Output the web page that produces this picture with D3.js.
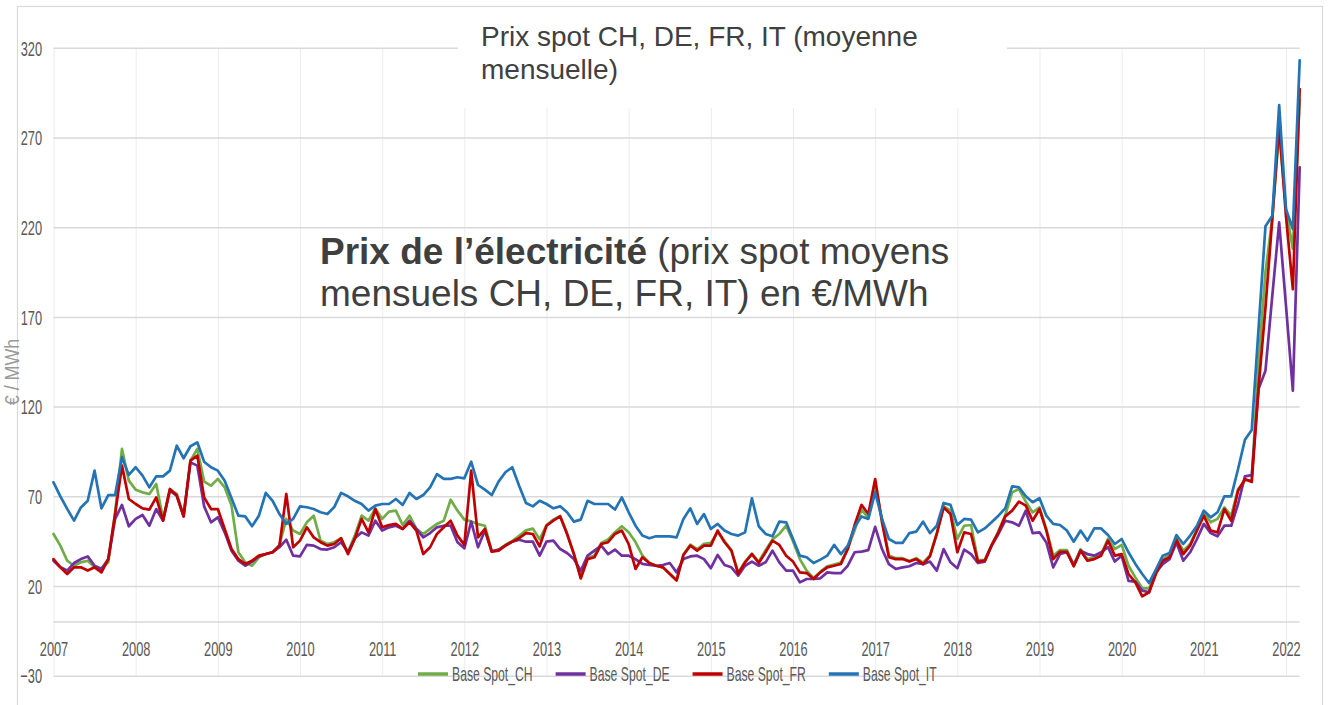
<!DOCTYPE html>
<html><head><meta charset="utf-8">
<script src="https://cdn.jsdelivr.net/npm/d3@7"></script>
<style>html,body{margin:0;padding:0;background:#fff;overflow:hidden}</style>
</head><body><svg id="c" width="1332" height="705"></svg>
<script>
// ---------- data ----------
const yearLabels = ["2007","2008","2009","2010","2011","2012","2013","2014","2015","2016","2017","2018","2019","2020","2021","2022"];
const yTicks = [-30,20,70,120,170,220,270,320];
const seriesNames = ["Base Spot_CH","Base Spot_DE","Base Spot_FR","Base Spot_IT"];
const seriesColors = ["#70ad47","#7030a0","#c00000","#2474b5"];
const chartTitle = ["Prix spot CH, DE, FR, IT (moyenne","mensuelle)"];
const unitLabel = "€ / MWh";

// monthly averages, Jan 2007 .. Mar 2022
const baseSpotCH = [
49,42.5,34.1,31.3,33.2,34.1,30.4,29.9,33.2,61,
96.4,78.7,73.7,72.2,71.3,76.9,57.4,73.7,71.3,59.2,
89.9,96.4,78.2,75.9,79.7,75,64.8,38.8,33.2,31.3,
36,37.8,38.8,42.9,57.4,50.9,49,55.5,59.2,45.3,
43.4,44.4,46.6,38.8,48.1,59.2,56.4,63.3,57.4,61.5,
62,54,59.2,51.8,49,51.8,54.6,56.4,68.1,62,
57,56,54.5,53.6,39.5,40,43,45,48,51,
52,46,54,57,59,49.5,38,25,35.5,37,
44,46,50,53.3,50,44.5,37,33,31.3,30.4,
27,23.5,37.5,43,40.5,43.5,44,50,45,40,
27.6,33.5,38,33.5,40,46,49,53.6,45,35,
28.5,24.5,28,31,32,33,41,51,62.6,58,
75.9,57.4,37,35.5,35.5,34,35.5,33,37,49.5,
64.5,62,46.2,53.6,54,34.5,34.5,43,50.5,59.5,
72.2,74,67,61,63.8,51.8,36.9,40,40,32,
40.5,35,36,37.8,46.2,40.6,42.9,31.3,24.8,18.7,
18.7,27.5,35,37,46.6,39.7,43.4,51.8,61.1,55.5,
57.4,63.8,59.2,74,78.7,79.6,145,195,225,274,
230,208,291];
const baseSpotDE = [
34.1,30.4,28.6,32.8,35,36.5,31.3,29.5,35,57.4,
65.2,53.3,57.4,59.6,53.6,62.9,56.4,73.2,70.4,58.8,
88.9,87.1,64.4,55.5,58.3,49.9,39.7,34.1,31.3,33.6,
36.5,37.8,38.8,41.6,45.8,36.9,36.5,42.9,42.5,40.6,
40.3,41.6,44.4,38.8,46.6,49.9,48.1,56.4,50.9,52.7,
53.6,51.8,56.4,51.8,47.1,49.5,52.7,53.6,53.6,44.4,
41,55.9,41.6,50.9,39.2,40.3,42.5,44.7,45.8,44.7,
44.7,36.9,44.7,45.3,40.6,38.4,35,28.5,36.9,39.7,
42.5,37.8,40.3,36.9,36.9,35,32.3,31.7,31.3,31.7,
32.8,27.6,35,36.5,36.9,35,29.9,37.3,31.7,30.4,
25.8,31.3,33.6,31.3,33.2,39.7,33.2,28.6,28.6,22,
23.9,23.9,24.3,27.6,27.2,27.2,31.3,38.8,39.2,40,
53,40.6,32.2,29.5,30.4,31,32.8,32.2,33.6,28.6,
40.6,33.2,29.9,40.3,37.8,32.8,33.6,42.5,49,56.4,
55.5,53.6,62,49.5,49.9,44.3,30.4,37.8,38.8,31.3,
39.7,37.8,36.9,38.8,41.6,33.6,36.9,22.9,22.4,17.4,
16.5,27.6,32.2,35,44.3,34.1,38.8,46.2,54.6,49.5,
47.7,53.6,53.6,65.7,81.1,81.8,130,140,181.8,222.7,
176.2,128.9,253.4];
const baseSpotFR = [
35,30.4,26.7,30.4,30.4,28.6,30.4,27.6,35,60.1,
87.1,68.5,65.7,63.3,62.6,69.4,56.4,74.1,70.4,58.8,
89.9,92.7,69.4,62.9,62.9,51.8,40.6,35,32.3,34.1,
36.9,37.8,38.8,42.5,71.3,41.6,45.3,52.7,47.1,44.4,
42.5,43.4,46.6,37.8,46.2,57.4,49.9,62.9,52.7,54,
54.6,51.8,55.5,50.9,37.8,41.6,49,52.7,56.4,48.1,
42.9,84.3,47.1,51.8,39.2,39.7,42.5,44.7,46.6,49.5,
49,42.1,53.6,56.4,58.8,49,37.8,24.2,35,36,
43.4,44.4,49,50.9,43.4,29.5,36,32.8,31.3,30.4,
26.7,23,37.3,42.5,39.7,42.5,42.5,50.9,44.4,39.7,
26.7,33.2,37.8,32.8,38.8,45.3,42.9,36.9,33.6,27.6,
27.2,23.9,27.6,30.4,31.3,32.3,40.6,54,65.2,60.1,
79.6,55.5,36,35,35,33.6,35,32.2,36.5,49,
63.8,60.1,38.8,49.9,49,33.6,34.1,42.5,49.9,58.8,
62,67,64.8,56.4,62.9,50.9,35,39.1,39.1,31,
39.7,34.1,35,36.9,45.3,36.9,37.8,26.7,22,14.2,
16.5,26.7,34.1,36,45.8,37.8,42.5,50.9,59.2,50.9,
49.9,62.9,56.4,73.1,79.6,78,131,175,224.6,276.6,
226,185.5,297];
const baseSpotIT = [
77.8,70,63,56.4,63.8,67.5,84.3,63.3,70.7,70.7,
91.8,81.9,86.2,81.5,75,81.1,81.1,84.3,98.2,91.2,
97.9,100.1,89.3,86.2,84.3,78.7,68.9,59.2,58.8,53.3,
59.2,71.9,67.5,60.1,54.6,57.4,64.4,63.9,62.9,61.1,
60.1,64,71.9,70,67.5,65.7,62,64.8,65.7,65.7,
68.5,65.2,71.9,68.5,70.7,75,82.4,79.7,79.7,80.6,
80,89.3,76.3,73.7,70.7,78.2,83.4,86.2,75.9,66.3,
64.4,67.5,65.7,63.3,64.4,61.1,55.9,57,67.5,65.7,
65.7,65.7,62.6,69.4,61.1,53.6,48.1,46.6,47.7,47.7,
47.7,47.1,57.4,63.3,54.6,60.1,51.8,54.6,50.9,49,
48.1,49.9,68.9,53.3,49,47.7,55.9,55.5,46.2,36.9,
36,32.8,34.7,36.9,42.9,37.8,42.5,52.7,58.8,57.4,
72.2,57.4,46.2,44,44,49.5,50.3,55.9,49.5,53.6,
66.3,65.2,54,57.4,57,49.9,52.1,55.5,59.2,63.3,
75.5,75,70,66.7,68.9,59.2,54.6,54,50.9,44.7,
50.9,45.3,52.1,52.1,48.4,43.4,46.2,38.8,32.3,26.7,
21.7,29.1,36.9,38.4,48.4,43.4,48.1,53.6,62,58.3,
61.1,70,70,85.2,101.5,107,164,220.5,226.4,288,
230,219,313];

const seriesValues = [baseSpotCH, baseSpotDE, baseSpotFR, baseSpotIT];

// ---------- drawing ----------
const svg = d3.select("#c");
const FONT = "'Liberation Sans', Arial, sans-serif";
const nMonths = baseSpotCH.length;
const x = d3.scaleLinear().domain([0, 180]).range([53.5, 1286]);
const y = d3.scaleLinear().domain([-30, 320]).range([675.7, 47.8]);
const xEnd = x(nMonths - 1);
const yearTicks = yearLabels.map((_, i) => i * 12);
const SQ = 0.61; // horizontal squeeze of the original tick font

svg.append("rect").attr("width",1332).attr("height",705).attr("fill","#fff");
// outer frame
svg.append("rect").attr("x",17.5).attr("y",6.5).attr("width",1305).attr("height",720)
  .attr("fill","none").attr("stroke","#d9d9d9").attr("stroke-width",1.2);

// vertical year gridlines
const vg = svg.append("g").attr("transform",`translate(0,${y(-30)})`)
  .call(d3.axisBottom(x).tickValues(yearTicks).tickSize(-(y(-30)-y(320))).tickFormat(""));
vg.select(".domain").remove();
vg.selectAll("line").attr("stroke","#ececec").attr("stroke-width",1);

// horizontal gridlines
const hg = svg.append("g").attr("transform",`translate(${x(0)},0)`)
  .call(d3.axisLeft(y).tickValues(yTicks).tickSize(-(xEnd - x(0))).tickFormat(""));
hg.select(".domain").remove();
hg.selectAll("line").attr("stroke","#d9d9d9").attr("stroke-width",1.5);

// zero axis line
svg.append("line").attr("x1",x(0)).attr("x2",xEnd).attr("y1",y(0)).attr("y2",y(0))
  .attr("stroke","#d9d9d9").attr("stroke-width",1.5);

// unit label (partly hidden in the original)
svg.append("text").attr("transform","translate(19,372) rotate(-90) scale(0.85,1)")
  .attr("text-anchor","middle").attr("font-family",FONT).attr("font-size",21)
  .attr("fill","#9a9a9a").text(unitLabel);

// y labels
const ya = svg.append("g").attr("transform","translate(42,0)")
  .call(d3.axisLeft(y).tickValues(yTicks).tickSize(0).tickPadding(0));
ya.select(".domain").remove();
ya.selectAll("text").attr("x",0).attr("dy",null).attr("dominant-baseline","central")
  .attr("text-anchor","end").attr("transform",`scale(${SQ},1)`)
  .attr("font-family",FONT).attr("font-size",21).attr("fill","#595959");

// x labels
const xa = svg.append("g").attr("transform","translate(0,649)")
  .call(d3.axisBottom(x).tickValues(yearTicks).tickSize(0).tickPadding(0).tickFormat((d,i)=>yearLabels[i]));
xa.select(".domain").remove();
xa.selectAll("text").attr("y",0).attr("dy",null).attr("dominant-baseline","central")
  .attr("transform",`scale(${SQ},1)`)
  .attr("font-family",FONT).attr("font-size",21).attr("fill","#595959");

// lines
const line = d3.line().x((d,i)=>x(i)).y(d=>y(d));
seriesValues.forEach((vals, k) => {
  svg.append("path").datum(vals).attr("d", line).attr("fill","none")
    .attr("stroke", seriesColors[k]).attr("stroke-width",2.7)
    .attr("stroke-linejoin","round").attr("stroke-linecap","round");
});

// legend
const lg = svg.append("g").attr("transform","translate(0,674)");
let cx = 418;
seriesNames.forEach((name, k) => {
  lg.append("line").attr("x1",cx).attr("x2",cx+30).attr("y1",0).attr("y2",0)
    .attr("stroke",seriesColors[k]).attr("stroke-width",3.5);
  const t = lg.append("text").attr("transform",`translate(${cx+34},0) scale(${SQ},1)`)
    .attr("dominant-baseline","central").attr("font-family",FONT).attr("font-size",20)
    .attr("fill","#595959").text(name);
  const w = t.node().getComputedTextLength() * SQ;
  cx += 34 + w + 23;
});

// title box
svg.append("rect").attr("x",458).attr("y",12).attr("width",549).attr("height",96).attr("fill","#fff");
chartTitle.forEach((s, i) => {
  svg.append("text").attr("x",481).attr("y",46 + i*33).attr("font-family",FONT)
    .attr("font-size",28).attr("fill","#404040").text(s);
});

// overlay caption
const cap = svg.append("text").attr("font-family",FONT).attr("font-size",37).attr("fill","#3f3f3f");
const l1 = cap.append("tspan").attr("x",320).attr("y",264);
l1.append("tspan").attr("font-weight","bold").text("Prix de l’électricité");
l1.append("tspan").text(" (prix spot moyens");
cap.append("tspan").attr("x",320).attr("y",306).text("mensuels CH, DE, FR, IT) en €/MWh");
</script></body></html>
